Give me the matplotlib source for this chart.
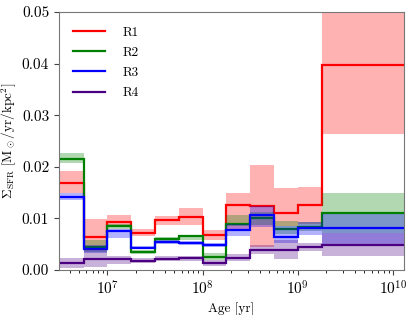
import matplotlib
matplotlib.use("Agg")
import matplotlib.pyplot as plt
import numpy as np

plt.rcParams['font.family'] = 'serif'
plt.rcParams['font.serif'] = ['cmr10']
plt.rcParams['mathtext.fontset'] = 'cm'
plt.rcParams['axes.formatter.use_mathtext'] = True

# age bin edges [yr]
edges = [10**6.5, 10**6.75, 1e7, 10**7.25, 10**7.5, 10**7.75, 1e8,
         10**8.25, 10**8.5, 10**8.75, 1e9, 10**9.25, 1.35e10]

labels = ['R1', 'R2', 'R3', 'R4']
colors = ['red', 'green', 'blue', 'indigo']

r1 = [0.0169, 0.0063, 0.0093, 0.0071, 0.0097, 0.0103, 0.0068, 0.0125, 0.0124, 0.0110, 0.0126, 0.0397]
r1_lo = [0.0150, 0.0040, 0.0086, 0.0065, 0.0088, 0.0087, 0.0059, 0.0080, 0.0045, 0.0085, 0.0090, 0.0263]
r1_hi = [0.0191, 0.0099, 0.0107, 0.0079, 0.0105, 0.0120, 0.0078, 0.0150, 0.0203, 0.0158, 0.0161, 0.0600]

r2 = [0.0216, 0.0045, 0.0085, 0.0034, 0.0060, 0.0065, 0.0025, 0.0089, 0.0100, 0.0079, 0.0083, 0.0111]
r2_lo = [0.0208, 0.0035, 0.0080, 0.0030, 0.0056, 0.0058, 0.0019, 0.0086, 0.0088, 0.0070, 0.0075, 0.0072]
r2_hi = [0.0226, 0.0058, 0.0090, 0.0039, 0.0064, 0.0068, 0.0033, 0.0106, 0.0112, 0.0095, 0.0093, 0.0149]

r3 = [0.0141, 0.0041, 0.0076, 0.0043, 0.0055, 0.0052, 0.0048, 0.0078, 0.0106, 0.0063, 0.0082, 0.0081]
r3_lo = [0.0135, 0.0033, 0.0062, 0.0040, 0.0050, 0.0048, 0.0044, 0.0065, 0.0083, 0.0052, 0.0068, 0.0048]
r3_hi = [0.0150, 0.0048, 0.0080, 0.0047, 0.0059, 0.0056, 0.0052, 0.0090, 0.0123, 0.0086, 0.0092, 0.0108]

r4 = [0.0013, 0.0021, 0.0021, 0.0018, 0.0022, 0.0023, 0.0014, 0.0023, 0.0038, 0.0038, 0.0044, 0.0049]
r4_lo = [0.0004, 0.0006, 0.0012, 0.0013, 0.0017, 0.0018, 0.0008, 0.0017, 0.0030, 0.0021, 0.0036, 0.0027]
r4_hi = [0.0023, 0.0040, 0.0028, 0.0023, 0.0027, 0.0028, 0.0020, 0.0030, 0.0048, 0.0058, 0.0052, 0.0072]

series = [(r1, r1_lo, r1_hi), (r2, r2_lo, r2_hi), (r3, r3_lo, r3_hi), (r4, r4_lo, r4_hi)]

fig = plt.figure(figsize=(4.15, 3.15), dpi=100)
ax = fig.add_axes([0.142, 0.143, 0.831, 0.819])

for (val, lo, hi), lab, col in zip(series, labels, colors):
    ax.stairs(hi, edges, baseline=lo, fill=True, color=col, alpha=0.3, lw=0)
    ax.stairs(val, edges, baseline=None, color=col, lw=1.6, label=lab)

ax.set_xscale('log')
ax.set_xlim(10**6.49, 1.3e10)
ax.set_ylim(0, 0.05)
ax.set_yticks([0, 0.01, 0.02, 0.03, 0.04, 0.05])
ax.set_yticklabels(['0.00', '0.01', '0.02', '0.03', '0.04', '0.05'])
ax.set_xlabel('Age [yr]', fontsize=9.5, labelpad=3)
ax.set_ylabel(r'$\Sigma_{\rm SFR}$ [M$_\odot$/yr/kpc$^2$]', fontsize=9.5, labelpad=3)
ax.tick_params(labelsize=11, color='#444444')
for s in ax.spines.values():
    s.set_color('#777777')

ax.legend(loc='upper left', frameon=False, fontsize=9.5, handlelength=2.4,
          borderaxespad=0.7, labelspacing=0.6, handletextpad=1.3)

fig.savefig('out.png', dpi=100)
